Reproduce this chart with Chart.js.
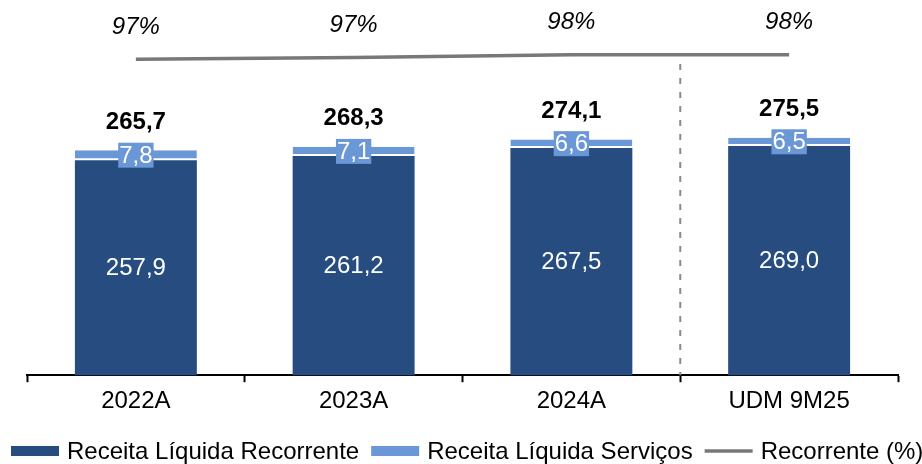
<!DOCTYPE html>
<html>
<head>
<meta charset="utf-8">
<script src="https://cdn.jsdelivr.net/npm/chart.js@4/dist/chart.umd.min.js"></script>
<style>
html,body{margin:0;padding:0;background:#fff;}
#wrap{width:922px;height:464px;position:relative;}
</style>
</head>
<body>
<div id="wrap"><canvas id="c" width="922" height="464"></canvas></div>
<script>
const categories = ['2022A', '2023A', '2024A', 'UDM 9M25'];
const recorrente = [257.9, 261.2, 267.5, 269.0];
const servicos = [7.8, 7.1, 6.6, 6.5];
const totals = [265.7, 268.3, 274.1, 275.5];
const recorrentePct = [97.1, 97.3, 97.6, 97.6];
const recorrentePctLabels = ['97%', '97%', '98%', '98%'];
const seriesNames = ['Receita Líquida Recorrente', 'Receita Líquida Serviços', 'Recorrente (%)'];

const DARK = '#264C80';
const LIGHT = '#6A97D5';
const GRAY = '#787878';
const FONT = "'Liberation Sans', Arial, sans-serif";
const FS = 24;

function fmt(v){ return v.toFixed(1).replace('.', ','); }

const labelPlugin = {
  id: 'labels',
  beforeDatasetsDraw(chart){
    const ctx = chart.ctx;
    const xs = chart.scales.x;
    const ca = chart.chartArea;
    const x = (xs.getPixelForValue(2) + xs.getPixelForValue(3)) / 2;
    ctx.save();
    ctx.strokeStyle = '#8a8a8a';
    ctx.lineWidth = 2;
    ctx.setLineDash([6, 8]);
    ctx.beginPath();
    ctx.moveTo(x, 64);
    ctx.lineTo(x, ca.bottom);
    ctx.stroke();
    ctx.restore();
  },
  afterDatasetsDraw(chart){
    const ctx = chart.ctx;
    const ca = chart.chartArea;
    const m0 = chart.getDatasetMeta(0).data;
    const m1 = chart.getDatasetMeta(1).data;
    const m2 = chart.getDatasetMeta(2).data;
    ctx.save();
    ctx.textAlign = 'center';
    ctx.textBaseline = 'middle';
    for (let i = 0; i < categories.length; i++) {
      const b0 = m0[i];
      ctx.fillStyle = '#ffffff';
      ctx.font = FS + 'px ' + FONT;
      ctx.fillText(fmt(recorrente[i]), b0.x, (b0.y + Math.min(b0.base, ca.bottom)) / 2 + 1);
      const b1 = m1[i];
      const cy = (b1.y + b1.base) / 2;
      const txt = fmt(servicos[i]);
      const w = ctx.measureText(txt).width + 2;
      ctx.fillStyle = LIGHT;
      ctx.fillRect(b1.x - w / 2, cy - 12.5, w, 25);
      ctx.fillStyle = '#ffffff';
      ctx.fillText(txt, b1.x, cy + 1);
      ctx.fillStyle = '#000000';
      ctx.font = 'bold ' + FS + 'px ' + FONT;
      ctx.fillText(fmt(totals[i]), b1.x, b1.y - 28);
      const p = m2[i];
      ctx.font = 'italic ' + FS + 'px ' + FONT;
      ctx.fillText(recorrentePctLabels[i], p.x, p.y - 32);
    }
    ctx.restore();
  },
  afterDraw(chart){
    const ctx = chart.ctx;
    const y = 451;
    ctx.save();
    ctx.font = FS + 'px ' + FONT;
    ctx.textAlign = 'left';
    ctx.textBaseline = 'middle';
    let x = 11;
    const styles = [DARK, LIGHT, GRAY];
    for (let i = 0; i < seriesNames.length; i++) {
      if (i < 2) {
        ctx.fillStyle = styles[i];
        ctx.fillRect(x, y - 5, 48, 10);
      } else {
        ctx.strokeStyle = GRAY;
        ctx.lineWidth = 3.5;
        ctx.beginPath();
        ctx.moveTo(x, y);
        ctx.lineTo(x + 48, y);
        ctx.stroke();
      }
      x += 48 + 8;
      ctx.fillStyle = '#000000';
      ctx.fillText(seriesNames[i], x, y + 1);
      x += ctx.measureText(seriesNames[i]).width + 12;
    }
    ctx.restore();
  }
};

new Chart(document.getElementById('c'), {
  type: 'bar',
  data: {
    labels: categories,
    datasets: [
      {
        label: seriesNames[0],
        data: recorrente,
        backgroundColor: DARK,
        stack: 's',
        yAxisID: 'y',
        barPercentage: 1,
        categoryPercentage: 0.56,
        order: 2
      },
      {
        label: seriesNames[1],
        data: servicos,
        backgroundColor: LIGHT,
        borderColor: '#ffffff',
        borderWidth: {top: 0, left: 0, right: 0, bottom: 2},
        borderSkipped: false,
        stack: 's',
        yAxisID: 'y',
        barPercentage: 1,
        categoryPercentage: 0.56,
        order: 2
      },
      {
        type: 'line',
        label: seriesNames[2],
        data: recorrentePct,
        borderColor: GRAY,
        backgroundColor: GRAY,
        borderWidth: 3.5,
        pointRadius: 0,
        tension: 0,
        yAxisID: 'y2',
        order: 1
      }
    ]
  },
  options: {
    responsive: false,
    animation: false,
    devicePixelRatio: 1,
    layout: {padding: {left: 27, right: 24, top: 10, bottom: 43}},
    scales: {
      x: {
        stacked: true,
        offset: true,
        grid: {
          display: true,
          offset: true,
          drawOnChartArea: false,
          drawTicks: true,
          tickLength: 7,
          tickWidth: 2,
          tickColor: '#000000'
        },
        border: {display: true, color: '#000000', width: 2},
        ticks: {
          color: '#000000',
          font: {family: FONT, size: FS},
          padding: 5,
          maxRotation: 0
        }
      },
      y: {
        display: false,
        stacked: true,
        min: 90,
        max: 375.16
      },
      y2: {
        display: false,
        min: 62.41,
        max: 102.52
      }
    },
    plugins: {
      legend: {display: false},
      tooltip: {enabled: false}
    }
  },
  plugins: [labelPlugin]
});
</script>
</body>
</html>
